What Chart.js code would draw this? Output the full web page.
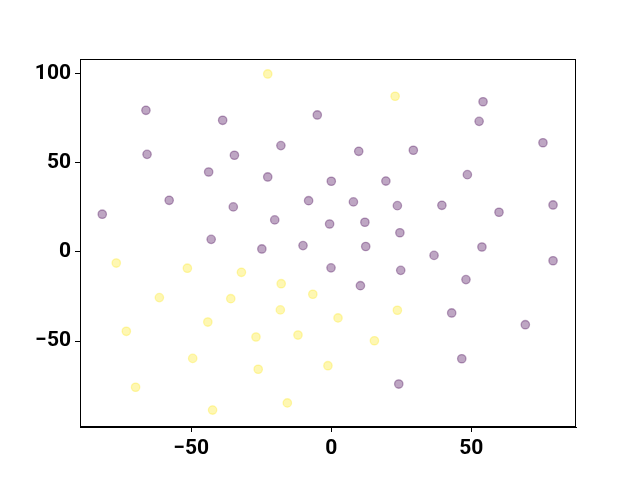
<!DOCTYPE html>
<html>
<head>
<meta charset="utf-8">
<script src="https://cdn.jsdelivr.net/npm/chart.js@4/dist/chart.umd.min.js"></script>
<style>
    html, body { margin: 0; padding: 0; background: #ffffff; }
    #wrap { width: 640px; height: 480px; }
</style>
</head>
<body>
<div id="wrap"><canvas id="chart"></canvas></div>
<script>
// Class 0 (dark purple) points
const purpleX = [-66.2, -38.8, -5.0, -18.0, -65.8, -34.6, -43.8, -22.7, 0.0, -57.9, -35.0, -8.1, -81.8, -20.2, -0.6,
    -42.9, -24.8, -10.1, -0.1, 54.2, 52.8, 75.6, 9.8, 29.3, 19.5, 48.6, 7.9, 23.6, 39.5, 59.9, 79.2, 12.0, 24.5,
    12.3, 53.8, 36.7, 79.2, 24.8, 10.4, 48.1, 43.0, 69.3, 46.6, 24.1];
const purpleY = [79.5, 73.9, 76.9, 59.7, 54.8, 54.3, 44.9, 42.1, 39.7, 29.0, 25.3, 28.8, 21.2, 18.0, 15.7,
    7.1, 1.7, 3.6, -8.9, 84.3, 73.3, 61.3, 56.5, 57.1, 39.8, 43.4, 28.1, 26.0, 26.2, 22.3, 26.4, 16.7, 10.8,
    3.1, 2.8, -1.9, -4.9, -10.3, -18.9, -15.5, -34.2, -40.8, -59.9, -74.1];

// Class 1 (yellow) points
const yellowX = [-22.7, 22.8, -76.8, -51.4, -32.1, -17.9, -6.6, -61.4, -35.9, -18.2, -44.1, -73.2, -26.9, -11.9,
    -49.5, -26.1, -1.2, -69.9, -15.7, -42.4, 2.4, 23.6, 15.4];
const yellowY = [99.9, 87.4, -6.2, -9.1, -11.4, -17.8, -23.7, -25.6, -26.2, -32.5, -39.3, -44.5, -47.7, -46.6,
    -59.7, -65.8, -63.8, -75.9, -84.7, -88.7, -37.0, -32.7, -49.8];

const xTicks = [-50, 0, 50];
const yTicks = [-50, 0, 50, 100];
const xRange = [-89.75, 87.4];
const yRange = [-98.2, 108.3];

const PURPLE = 'rgba(68, 1, 84, 0.35)';
const YELLOW = 'rgba(253, 231, 37, 0.35)';
const TICK_FONT = { family: 'Roboto', size: 21, weight: 'bold' };

function toPoints(xs, ys) {
    return xs.map((x, i) => ({ x: x, y: ys[i] }));
}

// matplotlib draws all four spines, Chart.js only left/bottom
const frameBox = {
    id: 'frameBox',
    afterDraw(chart) {
        const a = chart.chartArea;
        const ctx = chart.ctx;
        ctx.save();
        ctx.strokeStyle = '#000000';
        ctx.lineWidth = 1;
        ctx.strokeRect(a.left + 0.5, a.top + 0.5, a.right - a.left - 1, a.bottom - a.top - 1);
        ctx.restore();
    }
};

function axisOptions(range, ticks, fitSize, isX) {
    return {
        type: 'linear',
        min: range[0],
        max: range[1],
        afterBuildTicks: function(scale) {
            scale.ticks = ticks.map(v => ({ value: v }));
        },
        afterFit: function(scale) {
            if (isX) scale.height = fitSize; else scale.width = fitSize;
        },
        ticks: {
            color: '#000000',
            font: TICK_FONT,
            padding: 4,
            maxRotation: 0,
            callback: v => String(v).replace('-', '\u2212')
        },
        grid: {
            display: true,
            drawOnChartArea: false,
            drawTicks: true,
            tickLength: 5,
            tickWidth: 1,
            color: '#000000'
        },
        border: { display: true, color: '#000000', width: 1 }
    };
}

new Chart(document.getElementById('chart'), {
    type: 'scatter',
    data: {
        datasets: [
            {
                data: toPoints(purpleX, purpleY),
                backgroundColor: PURPLE,
                borderColor: PURPLE,
                borderWidth: 1.3,
                pointRadius: 4.2
            },
            {
                data: toPoints(yellowX, yellowY),
                backgroundColor: YELLOW,
                borderColor: YELLOW,
                borderWidth: 1.3,
                pointRadius: 4.2
            }
        ]
    },
    options: {
        responsive: true,
        maintainAspectRatio: false,
        animation: false,
        layout: { padding: { left: 0, right: 64, top: 59, bottom: 0 } },
        plugins: {
            legend: { display: false },
            tooltip: { enabled: false }
        },
        scales: {
            x: axisOptions(xRange, xTicks, 53, true),
            y: axisOptions(yRange, yTicks, 80, false)
        }
    },
    plugins: [frameBox]
});
</script>
</body>
</html>
